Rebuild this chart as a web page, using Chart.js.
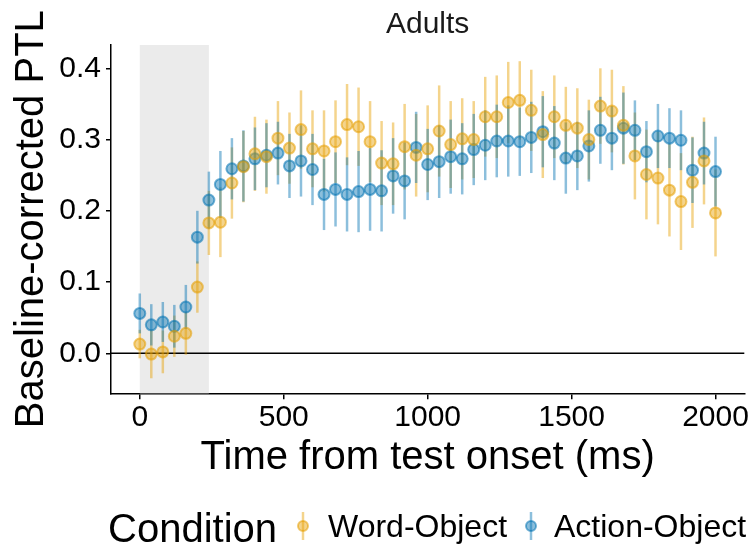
<!DOCTYPE html>
<html>
<head>
<meta charset="utf-8">
<script src="https://cdn.jsdelivr.net/npm/chart.js@4.4.0/dist/chart.umd.min.js"></script>
<style>
    html, body { margin: 0; padding: 0; background: #fff; }
    #wrap { width: 753px; height: 547px; }
</style>
</head>
<body>
<div id="wrap"><canvas id="ptlChart" width="753" height="547"></canvas></div>
<script>
// time bins (ms from test onset)
const times = [0, 40, 80, 120, 160, 200, 240, 280, 320, 360, 400, 440, 480, 520, 560, 600,
    640, 680, 720, 760, 800, 840, 880, 920, 960, 1000, 1040, 1080, 1120, 1160, 1200, 1240,
    1280, 1320, 1360, 1400, 1440, 1480, 1520, 1560, 1600, 1640, 1680, 1720, 1760, 1800,
    1840, 1880, 1920, 1960, 2000];

// Word-Object: mean and half error
const wordObject = [0.013, -0.001, 0.002, 0.024, 0.028, 0.093, 0.183, 0.184, 0.239, 0.262,
    0.280, 0.276, 0.302, 0.288, 0.314, 0.287, 0.284, 0.297, 0.321, 0.318,
    0.297, 0.267, 0.266, 0.290, 0.278, 0.287, 0.312, 0.293, 0.301, 0.300,
    0.332, 0.332, 0.352, 0.355, 0.341, 0.307, 0.332, 0.320, 0.316, 0.300,
    0.347, 0.340, 0.320, 0.277, 0.251, 0.246, 0.229, 0.213, 0.240, 0.270, 0.197];
const wordObjectErr = [0.020, 0.034, 0.030, 0.029, 0.030, 0.036, 0.045, 0.049, 0.050, 0.050,
    0.052, 0.052, 0.052, 0.050, 0.055, 0.054, 0.057, 0.058, 0.057, 0.055,
    0.057, 0.059, 0.058, 0.060, 0.058, 0.061, 0.064, 0.061, 0.057, 0.054,
    0.056, 0.058, 0.057, 0.055, 0.057, 0.061, 0.058, 0.054, 0.056, 0.056,
    0.053, 0.058, 0.055, 0.061, 0.063, 0.065, 0.065, 0.068, 0.064, 0.061, 0.061];

// Action-Object: mean and half error
const actionObject = [0.056, 0.040, 0.044, 0.038, 0.065, 0.163, 0.215, 0.237, 0.259, 0.263,
    0.273, 0.278, 0.281, 0.263, 0.270, 0.258, 0.223, 0.230, 0.223, 0.227,
    0.230, 0.228, 0.249, 0.242, 0.289, 0.265, 0.269, 0.276, 0.273, 0.286,
    0.292, 0.298, 0.298, 0.297, 0.303, 0.311, 0.295, 0.274, 0.277, 0.291,
    0.313, 0.302, 0.316, 0.313, 0.283, 0.305, 0.302, 0.299, 0.257, 0.281, 0.255];
const actionObjectErr = [0.028, 0.029, 0.028, 0.030, 0.031, 0.037, 0.040, 0.047, 0.043, 0.050,
    0.044, 0.045, 0.044, 0.045, 0.050, 0.050, 0.050, 0.052, 0.052, 0.057,
    0.058, 0.057, 0.053, 0.054, 0.050, 0.050, 0.051, 0.052, 0.050, 0.050,
    0.049, 0.051, 0.050, 0.048, 0.050, 0.050, 0.052, 0.050, 0.048, 0.050,
    0.047, 0.045, 0.050, 0.042, 0.043, 0.045, 0.042, 0.042, 0.046, 0.044, 0.049];

const xTicks = [0, 500, 1000, 1500, 2000];
const yTicks = [0, 0.1, 0.2, 0.3, 0.4];
const shadeWindow = [0, 240];

const FONT = "'Liberation Sans', Arial, Helvetica, sans-serif";

(function() {
    'use strict';

    Chart.defaults.font.family = FONT;

    function toPoints(values) {
        return times.map(function(t, i) { return { x: t, y: values[i] }; });
    }

    // shaded window, zero line and error bars, drawn under the points
    const backdrop = {
        id: 'backdrop',
        beforeDatasetsDraw(chart) {
            const { ctx, chartArea, scales: { x, y } } = chart;
            ctx.save();
            const x0 = x.getPixelForValue(shadeWindow[0]);
            const x1 = x.getPixelForValue(shadeWindow[1]);
            ctx.fillStyle = '#ebebeb';
            ctx.fillRect(x0, chartArea.top, x1 - x0, chartArea.bottom - chartArea.top);

            const y0 = y.getPixelForValue(0);
            ctx.strokeStyle = '#000';
            ctx.lineWidth = 1.5;
            ctx.beginPath();
            ctx.moveTo(chartArea.left, y0);
            ctx.lineTo(chartArea.right, y0);
            ctx.stroke();

            ctx.lineWidth = 2.5;
            chart.data.datasets.forEach(function(ds) {
                ctx.strokeStyle = ds.errColor;
                ds.data.forEach(function(p, i) {
                    const e = ds.err[i];
                    const px = x.getPixelForValue(p.x);
                    ctx.beginPath();
                    ctx.moveTo(px, y.getPixelForValue(p.y - e));
                    ctx.lineTo(px, y.getPixelForValue(p.y + e));
                    ctx.stroke();
                });
            });
            ctx.restore();
        }
    };

    // facet title, axis titles and bottom legend
    const labels = {
        id: 'labels',
        afterDraw(chart) {
            const { ctx, chartArea } = chart;
            const cx = (chartArea.left + chartArea.right) / 2;
            const cy = (chartArea.top + chartArea.bottom) / 2;
            ctx.save();
            ctx.textBaseline = 'alphabetic';

            ctx.fillStyle = '#1a1a1a';
            ctx.textAlign = 'center';
            ctx.font = '30px ' + FONT;
            ctx.fillText('Adults', cx, 33);

            ctx.fillStyle = '#000';
            ctx.font = '40px ' + FONT;
            ctx.fillText('Time from test onset (ms)', cx, 469);

            ctx.save();
            ctx.translate(43, cy);
            ctx.rotate(-Math.PI / 2);
            ctx.fillText('Baseline-corrected PTL', 0, 0);
            ctx.restore();

            // legend
            ctx.textAlign = 'left';
            ctx.fillText('Condition', 108, 542);
            const keys = [
                { x: 303, textX: 328, ds: chart.data.datasets[0] },
                { x: 531, textX: 554, ds: chart.data.datasets[1] }
            ];
            ctx.font = '32px ' + FONT;
            keys.forEach(function(k) {
                ctx.strokeStyle = k.ds.errColor;
                ctx.lineWidth = 2.5;
                ctx.beginPath();
                ctx.moveTo(k.x, 512);
                ctx.lineTo(k.x, 540);
                ctx.stroke();
                ctx.beginPath();
                ctx.arc(k.x, 526, 5, 0, Math.PI * 2);
                ctx.fillStyle = k.ds.backgroundColor;
                ctx.fill();
                ctx.lineWidth = 2;
                ctx.strokeStyle = k.ds.borderColor;
                ctx.stroke();
                ctx.fillStyle = '#000';
                ctx.fillText(k.ds.label, k.textX, 537);
            });
            ctx.restore();
        }
    };

    const ctx = document.getElementById('ptlChart').getContext('2d');

    new Chart(ctx, {
        type: 'scatter',
        data: {
            datasets: [{
                label: 'Word-Object',
                data: toPoints(wordObject),
                err: wordObjectErr,
                errColor: 'rgba(230, 159, 0, 0.45)',
                backgroundColor: 'rgba(230, 159, 0, 0.45)',
                borderColor: 'rgba(230, 159, 0, 0.55)',
                borderWidth: 2,
                pointRadius: 5.5,
                pointHoverRadius: 5.5
            }, {
                label: 'Action-Object',
                data: toPoints(actionObject),
                err: actionObjectErr,
                errColor: 'rgba(0, 114, 178, 0.45)',
                backgroundColor: 'rgba(0, 114, 178, 0.45)',
                borderColor: 'rgba(0, 114, 178, 0.55)',
                borderWidth: 2,
                pointRadius: 5.5,
                pointHoverRadius: 5.5
            }]
        },
        options: {
            responsive: false,
            devicePixelRatio: 1,
            animation: false,
            layout: {
                padding: { top: 45, right: 8.7, left: 0, bottom: 0 }
            },
            plugins: {
                legend: { display: false },
                tooltip: { enabled: false },
                title: { display: false }
            },
            scales: {
                x: {
                    type: 'linear',
                    min: -100,
                    max: 2100,
                    afterBuildTicks: function(scale) {
                        scale.ticks = xTicks.map(function(v) { return { value: v }; });
                    },
                    afterFit: function(scale) { scale.height = 153.7; },
                    grid: {
                        drawOnChartArea: false,
                        tickLength: 6,
                        tickColor: '#000',
                        lineWidth: 1.5
                    },
                    border: { color: '#000', width: 1.5 },
                    ticks: {
                        color: '#000',
                        font: { size: 30 },
                        padding: 0,
                        maxRotation: 0,
                        autoSkip: false,
                        callback: function(value) { return String(value); }
                    }
                },
                y: {
                    min: -0.0561,
                    max: 0.4327,
                    afterBuildTicks: function(scale) {
                        scale.ticks = yTicks.map(function(v) { return { value: v }; });
                    },
                    afterFit: function(scale) { scale.width = 111; },
                    grid: {
                        drawOnChartArea: false,
                        tickLength: 5,
                        tickColor: '#000',
                        lineWidth: 1.5
                    },
                    border: { color: '#000', width: 1.5 },
                    ticks: {
                        color: '#000',
                        font: { size: 30 },
                        padding: 5,
                        callback: function(value) { return value.toFixed(1); }
                    }
                }
            }
        },
        plugins: [backdrop, labels]
    });
})();
</script>
</body>
</html>
